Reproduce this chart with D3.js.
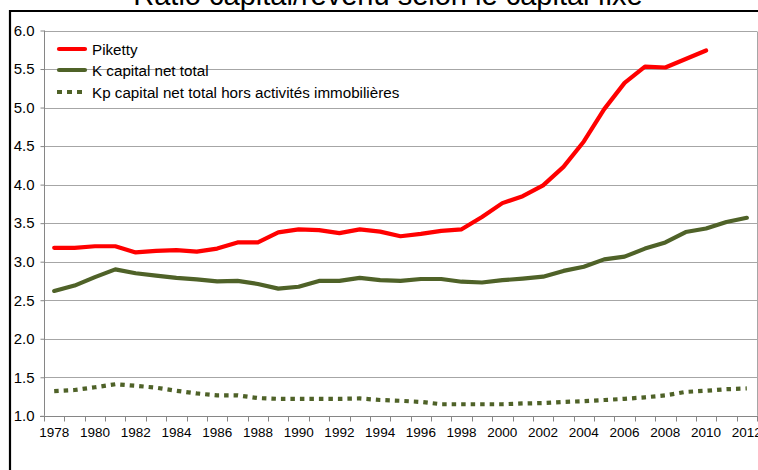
<!DOCTYPE html>
<html><head><meta charset="utf-8">
<script src="https://cdn.jsdelivr.net/npm/d3@7"></script>
<style>
html,body{margin:0;padding:0;background:#fff;}
svg{display:block;font-family:"Liberation Sans",Arial,sans-serif;}
</style></head>
<body><svg id="c" width="758" height="470"></svg>
<script>
const title = "Ratio capital/revenu selon le capital fixe";
const years = d3.range(1978, 2013);
const yTicks = [1.0,1.5,2.0,2.5,3.0,3.5,4.0,4.5,5.0,5.5,6.0];
const seriesNames = ["Piketty","K capital net total","Kp capital net total hors activités immobilières"];
const piketty = [3.18,3.18,3.20,3.20,3.12,3.14,3.15,3.13,3.17,3.25,3.25,3.38,3.42,3.41,3.37,3.42,3.39,3.33,3.36,3.40,3.42,3.58,3.76,3.85,3.99,4.23,4.56,4.98,5.32,5.53,5.52,5.63,5.74];
const kTotal = [2.62,2.69,2.80,2.90,2.85,2.82,2.79,2.77,2.745,2.75,2.71,2.65,2.675,2.75,2.75,2.79,2.76,2.75,2.775,2.775,2.74,2.73,2.76,2.78,2.805,2.88,2.935,3.03,3.065,3.17,3.25,3.385,3.43,3.515,3.57];
const kpTotal = [1.32,1.335,1.37,1.41,1.39,1.365,1.325,1.29,1.265,1.265,1.23,1.22,1.22,1.22,1.22,1.225,1.205,1.195,1.18,1.15,1.15,1.15,1.15,1.16,1.165,1.18,1.19,1.205,1.22,1.24,1.265,1.31,1.325,1.345,1.355];

const svg = d3.select("#c");
const L=44, R=757, T=30.5, B=415.8;
const x = d3.scaleBand().domain(years).range([L,R]).padding(0);
const y = d3.scaleLinear().domain([1,6]).range([B,T]);
const red="#ff0000", green="#4f6228";

svg.append("rect").attr("width",758).attr("height",470).attr("fill","#fff");

// title (partially clipped at top)
svg.append("text").attr("x",388).attr("y",5).attr("text-anchor","middle")
  .attr("font-size",29).attr("fill","#000").text(title);

// outer black frame
svg.append("path").attr("d","M10,470 V11 H758").attr("fill","none").attr("stroke","#000").attr("stroke-width",2.2);

// gridlines
svg.append("g").selectAll("line").data(yTicks.slice(1)).join("line")
  .attr("x1",L).attr("x2",R).attr("y1",d=>Math.round(y(d))+0.5).attr("y2",d=>Math.round(y(d))+0.5)
  .attr("stroke","#a6a6a6").attr("stroke-width",1);
// right border of plot area
svg.append("line").attr("x1",R+0.5).attr("x2",R+0.5).attr("y1",Math.round(T)+0.5).attr("y2",B)
  .attr("stroke","#a6a6a6");

// y axis
const yAxis = svg.append("g").attr("transform",`translate(${L+0.5},0)`)
  .call(d3.axisLeft(y).tickValues(yTicks).tickFormat(d3.format(".1f")).tickSize(4).tickPadding(6));
yAxis.select(".domain").attr("stroke","#868686").attr("d",`M0,${T}V${B}`);
yAxis.selectAll(".tick line").attr("stroke","#868686");
yAxis.selectAll("text").attr("font-size",15).attr("fill","#000").attr("font-family","Liberation Sans, Arial, sans-serif");

// x axis
const xAxis = svg.append("g").attr("transform",`translate(0,${Math.round(B)+0.5})`)
  .call(d3.axisBottom(x).tickValues(years).tickSize(0).tickPadding(11)
    .tickFormat(d=> (d-1978)%2===0 ? d : ""));
xAxis.select(".domain").attr("stroke","#868686").attr("d",`M${L-4},0H${R+1}`);
xAxis.selectAll("text").attr("font-size",13.5).attr("fill","#000").attr("font-family","Liberation Sans, Arial, sans-serif");
// ticks at band boundaries
const bounds = years.map(d=>x(d)).concat([R]);
xAxis.append("g").selectAll("line").data(bounds).join("line")
  .attr("x1",d=>Math.round(d)+0.5).attr("x2",d=>Math.round(d)+0.5).attr("y1",0).attr("y2",5)
  .attr("stroke","#868686");

const cx = d => x(d)+x.bandwidth()/2;
const line = d3.line().x(d=>cx(d[0])).y(d=>y(d[1]));
function draw(vals, color, dash){
  const p = svg.append("path").datum(vals.map((v,i)=>[years[i],v]))
    .attr("d",line).attr("fill","none").attr("stroke",color).attr("stroke-width",4.2)
    .attr("stroke-linejoin","round");
  if(dash) p.attr("stroke-dasharray",dash).attr("stroke-linecap","butt");
  else p.attr("stroke-linecap","round");
}
draw(kpTotal, green, "4.5,5");
draw(kTotal, green, null);
draw(piketty, red, null);

// legend
const leg = [
  {name:seriesNames[0], color:red, dash:null, y:49},
  {name:seriesNames[1], color:green, dash:null, y:70},
  {name:seriesNames[2], color:green, dash:"5,5", y:92}
];
const lg = svg.append("g");
leg.forEach(d=>{
  const l = lg.append("line").attr("x1",d.dash?57:59).attr("x2",d.dash?87:85).attr("y1",d.y).attr("y2",d.y)
    .attr("stroke",d.color).attr("stroke-width",4.2);
  if(d.dash) l.attr("stroke-dasharray",d.dash); else l.attr("stroke-linecap","round");
  lg.append("text").attr("x",92).attr("y",d.y+5.5).attr("font-size",15.2).attr("fill","#000").text(d.name);
});
</script></body></html>
